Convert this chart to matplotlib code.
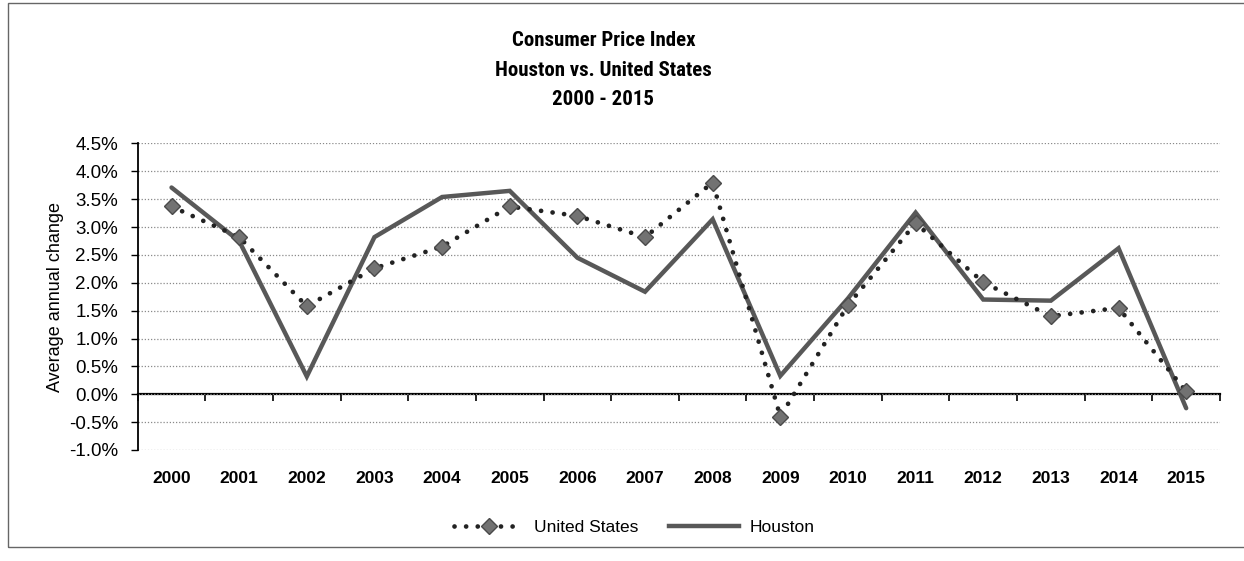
import matplotlib
matplotlib.use("Agg")
import matplotlib.pyplot as plt
from matplotlib.lines import Line2D
from matplotlib.patches import Rectangle
from matplotlib.ticker import FuncFormatter, MultipleLocator
from matplotlib import font_manager

years = ["2000", "2001", "2002", "2003", "2004", "2005", "2006", "2007",
         "2008", "2009", "2010", "2011", "2012", "2013", "2014", "2015"]
united_states = [3.37, 2.82, 1.58, 2.26, 2.65, 3.37, 3.20, 2.82,
                 3.80, -0.40, 1.60, 3.07, 2.01, 1.40, 1.55, 0.05]
houston = [3.71, 2.75, 0.32, 2.82, 3.54, 3.65, 2.45, 1.84,
           3.14, 0.33, 1.72, 3.26, 1.70, 1.68, 2.62, -0.25]
title_lines = ["Consumer Price Index", "Houston vs. United States", "2000 - 2015"]
y_label = "Average annual change"

available = {f.name for f in font_manager.fontManager.ttflist}
condensed = [n for n in ["Liberation Sans Narrow", "DejaVu Sans Condensed",
                         "Roboto Condensed", "Open Sans Condensed"] if n in available]
NARROW = condensed + ["Liberation Sans", "DejaVu Sans"]
REG = ["Liberation Sans", "DejaVu Sans"]
plt.rcParams["font.family"] = REG
title_size = 15 if condensed else 13.5

W, H = 1244, 561
fig = plt.figure(figsize=(W / 100, H / 100), dpi=100)
fig.patch.set_facecolor("white")

# outer border
fig.patches.append(Rectangle((8 / W, 1 - 547 / H), 1.2, (547 - 3) / H,
                             transform=fig.transFigure, fill=False,
                             edgecolor="#666666", lw=1.0))

left, right, top, bottom = 137.7, 1220, 143.5, 450
ax = fig.add_axes([left / W, 1 - bottom / H, (right - left) / W, (bottom - top) / H])

x = list(range(len(years)))
ax.set_xlim(-0.5, len(years) - 0.5)
ymin, ymax = -1.0, 4.5
ax.set_ylim(ymin, ymax)

# grid
ax.yaxis.set_major_locator(MultipleLocator(0.5))
ax.grid(axis="y", color="#8a8a8a", linestyle=(0, (1, 1.5)), linewidth=0.9)
ax.set_axisbelow(True)

ax.plot(x, houston, color="#585858", linewidth=3.2, solid_capstyle="round",
        solid_joinstyle="miter", label="Houston", zorder=3)
ax.plot(x, united_states, color="#222222", linewidth=3.4,
        linestyle=(0, (0.01, 2.45)), dash_capstyle="round",
        marker="D", markersize=8.5, markerfacecolor="#727272",
        markeredgecolor="#4a4a4a", markeredgewidth=1.0,
        label="United States", zorder=4)

for s in ["top", "right", "bottom"]:
    ax.spines[s].set_visible(False)
ax.spines["left"].set_color("black")
ax.spines["left"].set_linewidth(1.3)

ax.yaxis.set_major_formatter(FuncFormatter(lambda v, p: f"{v:.1f}%"))
ax.tick_params(axis="y", direction="out", length=5, width=1, pad=9,
               labelsize=13.5, colors="black")

ax.set_xticks(x)
ax.set_xticklabels(years, fontweight="bold", fontsize=12.5)
ax.tick_params(axis="x", length=0, pad=15)

# category axis at zero with boundary ticks
sec = ax.secondary_xaxis((0 - ymin) / (ymax - ymin))
sec.set_xticks([i + 0.5 for i in range(-1, len(years))])
sec.set_xticklabels([])
sec.tick_params(direction="out", length=5, width=1.2, colors="black")
sec.spines["bottom"].set_color("black")
sec.spines["bottom"].set_linewidth(1.6)

ax.set_ylabel(y_label, fontsize=13)
ax.yaxis.set_label_coords(-0.068, 0.5)

# title
for i, line in enumerate(title_lines):
    fig.text(603.5 / W, 1 - (40.5 + 29.5 * i) / H, line, ha="center", va="center",
             fontsize=title_size, fontweight="bold", family=NARROW)

# legend
us_handle = Line2D([], [], color="#222222", linewidth=3.4,
                   linestyle=(0, (0.01, 2.45)), dash_capstyle="round",
                   marker="D", markersize=8.5, markerfacecolor="#727272",
                   markeredgecolor="#4a4a4a", markeredgewidth=1.0)
ho_handle = Line2D([], [], color="#585858", linewidth=3.2)
fig.legend([us_handle, ho_handle], ["United States", "Houston"],
           loc="center", bbox_to_anchor=(634 / W, 1 - 527 / H), ncol=2,
           frameon=False, fontsize=12.5, handlelength=4.0, numpoints=1,
           columnspacing=1.8, handletextpad=0.6)

fig.savefig("out.png", dpi=100, facecolor="white")
